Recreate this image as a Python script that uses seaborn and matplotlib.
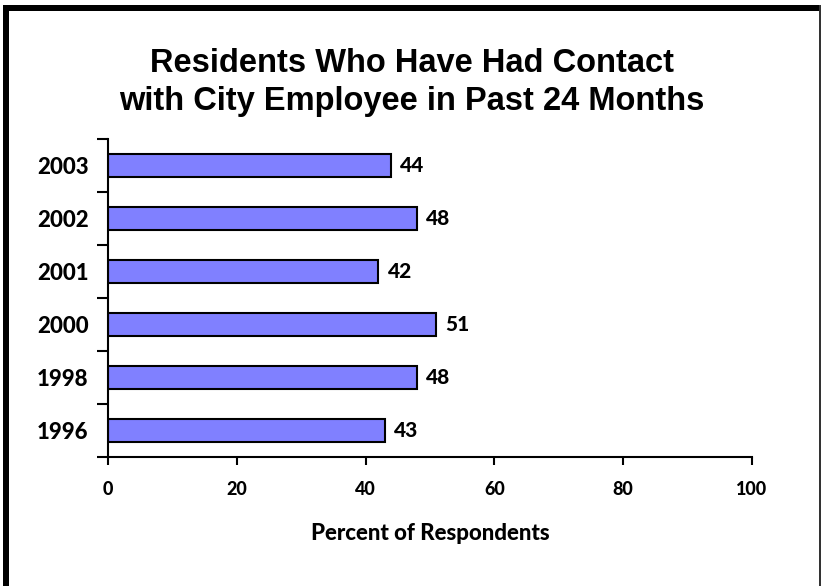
import matplotlib
matplotlib.use('Agg')
from matplotlib import pyplot as plt
from matplotlib.patches import Rectangle
from matplotlib.ticker import FixedLocator
import pandas as pd
import seaborn as sns

years = ['2003', '2002', '2001', '2000', '1998', '1996']
percent = [44, 48, 42, 51, 48, 43]
x_ticks = [0, 20, 40, 60, 80, 100]

df = pd.DataFrame({'year': years, 'percent': percent})

sns.set_style('white')
plt.rcParams['font.family'] = ['Lato', 'DejaVu Sans']
plt.rcParams['text.color'] = 'black'
plt.rcParams['axes.labelcolor'] = 'black'
plt.rcParams['xtick.color'] = 'black'
plt.rcParams['ytick.color'] = 'black'

fig = plt.figure(figsize=(8.23, 5.86), dpi=100)
ax = fig.add_axes([0.1312, 0.2201, 0.9137 - 0.1312, 0.7628 - 0.2201])

sns.barplot(data=df, x='percent', y='year', orient='h', order=years,
            color='#8080FF', saturation=1, edgecolor='black', linewidth=1.5,
            width=0.42, ax=ax)

ax.set_xlim(0, 100)
ax.set_ylim(len(years) - 0.5, -0.5)
ax.set_xticks(x_ticks)
ax.set_xticklabels([str(t) for t in x_ticks], fontsize=13, fontweight='black')
ax.set_yticks(range(len(years)))
ax.set_yticklabels(years, fontsize=16, fontweight='black')
ax.yaxis.set_minor_locator(FixedLocator([i - 0.5 for i in range(len(years) + 1)]))
ax.tick_params(axis='y', which='major', length=0, pad=14)
ax.tick_params(axis='y', which='minor', length=8, width=1.5, direction='out', left=True)
ax.tick_params(axis='x', which='major', length=6, width=1.5, direction='out', bottom=True, pad=11.5)

for side in ['top', 'right']:
    ax.spines[side].set_visible(False)
for side in ['left', 'bottom']:
    ax.spines[side].set_linewidth(1.5)
    ax.spines[side].set_color('black')

ax.bar_label(ax.containers[0], padding=6.5, fontsize=15, fontweight='black')

ax.set_ylabel('')
ax.set_xlabel('Percent of Respondents', fontsize=16, fontweight='black', labelpad=18)

fig.text(0.5, 1 - 82.5 / 586, 'Residents Who Have Had Contact\nwith City Employee in Past 24 Months',
         ha='center', va='center', fontsize=23.5, fontweight='bold', color='black',
         family=['Liberation Sans', 'DejaVu Sans'], linespacing=1.27)

# frame around the picture
fig.add_artist(Rectangle((3 / 823, 0), 6 / 823, 1 - 5 / 586, transform=fig.transFigure,
                         color='black', lw=0))
fig.add_artist(Rectangle((3 / 823, 1 - 11 / 586), 818 / 823, 6 / 586, transform=fig.transFigure,
                         color='black', lw=0))
fig.add_artist(Rectangle((819 / 823, 0), 2 / 823, 1 - 5 / 586, transform=fig.transFigure,
                         color='#333333', lw=0))

fig.savefig('out.png', dpi=100)
